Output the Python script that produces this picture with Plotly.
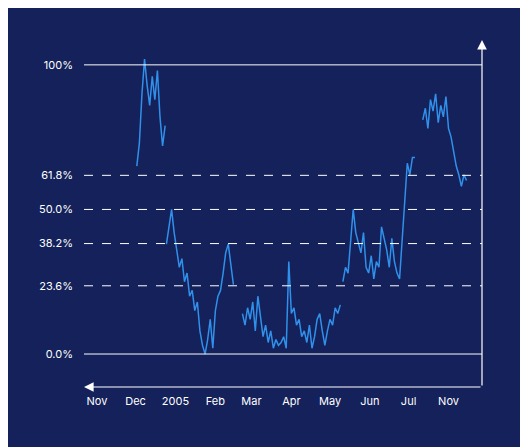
import plotly.graph_objects as go
import pandas as pd

seg_starts = ["2004-12-02", "2004-12-25", "2005-02-22", "2005-05-11", "2005-07-12"]
seg_values = [
    [65, 73, 90, 102, 93, 86, 96, 88, 98, 82, 72, 79],
    [38, 45, 50, 42, 35, 30, 33, 25, 28, 20, 22, 15, 18, 8, 3, 0, 5, 12, 2, 15, 20, 22, 28, 35, 38, 30, 24],
    [14, 10, 16, 12, 18, 8, 20, 12, 6, 10, 4, 8, 2, 5, 3, 4, 6, 2, 32, 14, 16, 10, 12, 6, 8, 4, 10, 2, 6, 12, 14, 8, 3, 8, 12, 10, 16, 14, 17],
    [25, 30, 28, 40, 50, 42, 38, 35, 42, 30, 28, 34, 26, 32, 30, 44, 40, 36, 30, 40, 32, 28, 26, 40, 55, 66, 62, 68, 68],
    [81, 85, 78, 88, 84, 90, 80, 86, 82, 89, 78, 75, 70, 65, 62, 58, 62, 60],
]
fib_levels = [0, 23.6, 38.2, 50.0, 61.8, 100]
fib_labels = ["0.0%", "23.6%", "38.2%", "50.0%", "61.8%", "100%"]
tick_dates = ["2004-11-01", "2004-12-01", "2005-01-01", "2005-02-01", "2005-03-01",
              "2005-04-01", "2005-05-01", "2005-06-01", "2005-07-01", "2005-08-01"]
tick_text = ["Nov", "Dec", "2005", "Feb", "Mar", "Apr", "May", "Jun", "Jul", "Nov"]

xs, ys = [], []
for s, vals in zip(seg_starts, seg_values):
    d = pd.date_range(s, periods=len(vals), freq="2D")
    xs += list(d) + [None]
    ys += vals + [None]

BG = "#14215a"
fig = go.Figure(go.Scatter(x=xs, y=ys, mode="lines", line=dict(color="#3090ea", width=1.5),
                           connectgaps=False, hoverinfo="skip"))
for lv in fib_levels:
    solid = lv in (0, 100)
    fig.add_shape(type="line", xref="paper", x0=0, x1=1, yref="y", y0=lv, y1=lv,
                  line=dict(color="white", width=1, dash="solid" if solid else "dash"))
fig.add_annotation(xref="x domain", yref="y domain", x=1, y=1, ax=1, ay=0, axref="x domain", ayref="y domain",
                   showarrow=True, arrowhead=2, arrowsize=1.6, arrowwidth=1.2, arrowcolor="white", text="")
fig.add_annotation(xref="x domain", yref="y domain", x=0, y=0, ax=1, ay=0, axref="x domain", ayref="y domain",
                   showarrow=True, arrowhead=2, arrowsize=1.6, arrowwidth=1.2, arrowcolor="white", text="")
fig.update_layout(
    width=528, height=447, paper_bgcolor=BG, plot_bgcolor=BG, showlegend=False,
    margin=dict(l=76, r=54, t=32, b=68),
    font=dict(family="Inter", color="white", size=11),
    xaxis=dict(type="date", range=["2004-10-22", "2005-08-27"], tickvals=tick_dates, ticktext=tick_text,
               showgrid=False, zeroline=False, showline=False, ticks="", ticklabelstandoff=6),
    yaxis=dict(range=[-11.4, 108.6], tickvals=fib_levels, ticktext=fib_labels, showgrid=False,
               zeroline=False, showline=False, ticks="", ticklabelstandoff=10),
)
fig.write_html("out.html")
